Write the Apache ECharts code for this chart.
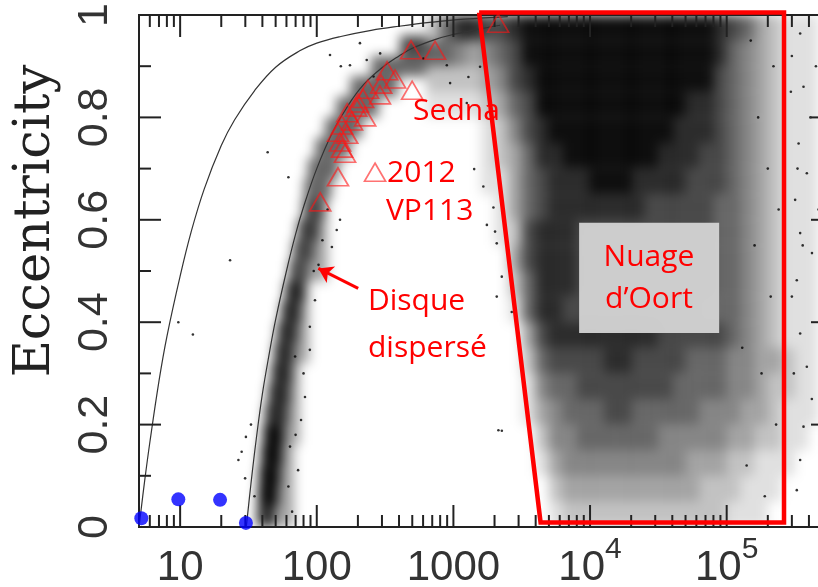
<!DOCTYPE html>
<html><head><meta charset="utf-8">
<script src="https://cdn.jsdelivr.net/npm/echarts/dist/echarts.min.js"></script>
<style>
html,body{margin:0;padding:0;background:#fff;}
#wrap{position:relative;width:818px;height:587px;overflow:hidden;background:#fff;}
#density{position:absolute;left:0;top:0;width:818px;height:587px;filter:blur(6px);clip-path:inset(14px 0 60px 0);}
#chart{position:absolute;left:0;top:0;width:818px;height:587px;}
</style></head><body>
<div id="wrap"><div id="density"></div><div id="chart"></div></div>
<script>
// ---------------- data ----------------
const xMajorTicks = [10, 100, 1000, 10000, 100000];
const xTickLabels = [['10',''], ['100',''], ['1000',''], ['10','4'], ['10','5']];
const xMinorTicks = [6,7,8,9,20,30,40,50,60,70,80,90,200,300,400,500,600,700,800,900,
  2000,3000,4000,5000,6000,7000,8000,9000,20000,30000,40000,50000,60000,70000,80000,90000,
  200000,300000,400000,500000];
const yMajorTicks = [0, 0.2, 0.4, 0.6, 0.8, 1];
const yTickLabels = ['0', '0.2', '0.4', '0.6', '0.8', '1'];
const yMinorTicks = [0.1, 0.3, 0.5, 0.7, 0.9];

// giant planets [a (AU), e]
const planets = [[5.2,0.017],[9.7,0.054],[19.6,0.053],[30.3,0.008]];

// distant detached objects (triangles) [a, e]
const detached = [[2123,0.984],[490,0.932],[734,0.931],[327,0.891],[374,0.875],[296,0.865],[499,0.853],
  [237,0.855],[290,0.844],[218,0.837],[200,0.828],[194,0.82],[226,0.801],[167,0.809],[181,0.793],
  [153,0.785],[143,0.771],[167,0.767],[148,0.752],[153,0.74],[161,0.73],[143,0.684],[106,0.635],[267,0.693]];

// perihelion curves [a, e]
const curveInner = [[5,0],[5.5,0.09],[6,0.165],[7,0.285],[8,0.372],[10,0.49],[12,0.575],[15,0.66],[20,0.745],
  [25,0.795],[35,0.852],[50,0.898],[75,0.93],[100,0.945],[150,0.958],[250,0.97],[400,0.978],[700,0.986],[1200,0.992],[2500,0.997]];
const curveOuter = [[30.5,0],[33,0.085],[36,0.17],[40,0.26],[45,0.34],[50,0.405],[60,0.5],[70,0.572],[80,0.625],
  [100,0.7],[130,0.77],[170,0.824],[220,0.864],[300,0.897],[400,0.92],[500,0.935],[750,0.953],[1000,0.962],[1500,0.972],[2200,0.98]];

// Oort cloud region outline [a, e]
const oortRegion = [[1542,1.005],[262800,1.005],[262800,0.009],[4345,0.009],[1542,1.005]];

// simulated-particle density: rows e = 1.00..0.00 (step 0.05),
// columns log10(a) = 2.8..5.7 (step 0.1), level 0 (empty) .. 9 (saturated)
const densityLogAStart = 2.8, densityLogAStep = 0.1, densityEStep = 0.05;
const oortDensityRows = [
  "257766789999999999998765321111",
  "554345689999999999998754321111",
  "222234678999999999988654321111",
  "111123568999999998877654321111",
  "000012467899999988777654321111",
  "000012357788999887776654321111",
  "000011356777888777766654321111",
  "000001356777777766666554321111",
  "000001267776666666666554321111",
  "000000367776666666666554321111",
  "000000257776666666666554321111",
  "000000157766666666665554321111",
  "000000036777777776666654321111",
  "000000025666677666655544332111",
  "000000014556666666555544322111",
  "000000013455566555554443321110",
  "000000002445555554444433221100",
  "000000001344444444433322111000",
  "000000000233333333332221110000",
  "000000000122222222222211100000"
];

// scattered-disk band: [eLow, eHigh, aLeft, aRight, level]
const scatteredBand = [
  [0.00,0.04,36.6,50.3,7],[0.04,0.08,37.2,52.1,8],[0.08,0.12,37.8,53.8,8],[0.12,0.16,39.1,55.7,8],
  [0.16,0.20,40.4,57.7,8],[0.20,0.24,41.8,60.6,7],[0.24,0.28,44.0,62.7,7],[0.28,0.32,46.3,64.8,7],
  [0.32,0.36,48.7,68.2,7],[0.36,0.40,51.2,71.8,7],[0.40,0.44,54.8,75.5,7],[0.44,0.48,58.6,80.7,7],
  [0.48,0.52,62.7,86.3,6],[0.52,0.56,67.0,93.9,6],[0.56,0.60,71.8,102.1,6],[0.60,0.64,78.0,112,5],
  [0.64,0.68,80.6,128,5],[0.68,0.72,86,145,5],[0.72,0.76,97.6,176,5],[0.76,0.80,115,214,5],
  [0.80,0.84,139,283,5],[0.84,0.88,176,392,5],[0.88,0.92,250,631,5],[0.92,0.96,407,631,6],
  [0.00,0.16,52,68,3],[0.16,0.32,58,75,3],[0.32,0.48,68,88,3],[0.48,0.64,86,120,3]
];

// isolated particles [a, e]
const sparseDots = [
  [9.7,0.40],[12.4,0.376],[23.2,0.521],[43.7,0.732],[62,0.683],
  [26.7,0.131],[30.3,0.176],[28.2,0.147],[29.9,0.095],[33,0.2],[35,0.06],
  [148,0.6],[140,0.58],[129,0.547],[103,0.512],[82,0.254],[63.7,0.157],[62,0.079],[89,0.391],[69.4,0.333],
  [89,0.346],[76.7,0.209],[73,0.111],[97,0.443],[115,0.492],[66,0.03],[70,0.18],[80,0.3],[95,0.5],[110,0.56],[120,0.62],
  [125,0.922],[175,0.902],[207,0.945],[232,0.912],[291,0.925],[150,0.9],[260,0.88],
  [1288,0.879],[946,0.867],[1567,0.899],[895,0.902],[603,0.915],[1419,0.699],[1758,0.59],[2018,0.577],
  [1963,0.624],[2076,0.554],[2262,0.188],[2135,0.189],[1253,0.828],[1656,0.665],[2260,0.489],[2076,0.45],[2672,0.42],
  [150000,0.95],[170000,0.8],[200000,0.7],[160000,0.55],[210000,0.45],[180000,0.3],[230000,0.2],[140000,0.12],
  [190000,0.06],[220000,0.9],[240000,0.62],[130000,0.35],
  [345000,0.964],[365000,0.86],[336000,0.749],[386000,0.691],[317000,0.639],[345000,0.574],[421000,0.535],
  [326000,0.482],[345000,0.378],[386000,0.313],[365000,0.196],[345000,0.131],[326000,0.072],[300000,0.92],
  [410000,0.8],[330000,0.7],[300000,0.45],[420000,0.25],[310000,0.3],[360000,0.55],[295000,0.85],[450000,0.9],[470000,0.62]
];

// ---------------- layout / style ----------------
const X_MIN = 5, X_MAX = 6e5;
const gridCfg = {left:139, top:15, right:-15, bottom:60, containLabel:false, outerBoundsMode:'none'};
const SANS = '"Liberation Sans", Arial, sans-serif';
const ANN = '"Open Sans", "Noto Sans", sans-serif';
const RED = '#ff0000';

function baseAxes(showLabels) {
  return {
    xAxis: {type:'log', logBase:10, min:X_MIN, max:X_MAX,
      axisLine:{show:false}, axisTick:{show:false}, splitLine:{show:false}, minorTick:{show:false},
      axisLabel: {show: showLabels, margin: 8,
        formatter: function (v) {
          const p = Math.log10(v);
          for (let i = 0; i < xMajorTicks.length; i++) {
            if (Math.abs(Math.log10(xMajorTicks[i]) - p) < 1e-6) {
              const t = xTickLabels[i];
              return t[1] ? '{b|' + t[0] + '}{s|' + t[1] + '}' : '{b|' + t[0] + '}';
            }
          }
          return '';
        },
        rich: {
          b: {fontFamily: SANS, fontSize: 42, color: '#333', lineHeight: 66, verticalAlign: 'middle'},
          s: {fontFamily: SANS, fontSize: 30, color: '#333', lineHeight: 26, verticalAlign: 'top'}
        }
      }},
    yAxis: {type:'value', min:0, max:1, interval:0.2,
      axisLine:{show:false}, axisTick:{show:false}, splitLine:{show:false},
      axisLabel: {show: showLabels, rotate: 90, margin: 22, fontFamily: SANS, fontSize: 43, color: '#333',
        formatter: function (v) {
          for (let i = 0; i < yMajorTicks.length; i++) if (Math.abs(yMajorTicks[i] - v) < 1e-6) return yTickLabels[i];
          return '';
        }}}
  };
}

function cellRender(params, api) {
  const p0 = api.coord([api.value(0), api.value(3)]);
  const p1 = api.coord([api.value(1), api.value(2)]);
  const L = api.value(4);
  return {type:'rect', shape:{x:p0[0], y:p0[1], width:p1[0]-p0[0], height:p1[1]-p0[1]},
    style:{fill:'rgba(0,0,0,' + Math.min(0.96, L * 0.12).toFixed(2) + ')'}};
}

// ---------------- density layer ----------------
const cells = [];
oortDensityRows.forEach(function (row, r) {
  const eHi = 1 - r * densityEStep, eLo = eHi - densityEStep;
  for (let k = 0; k < row.length; k++) {
    const L = +row[k];
    if (!L) continue;
    const a0 = Math.pow(10, densityLogAStart + k * densityLogAStep);
    const a1 = Math.pow(10, densityLogAStart + (k + 1) * densityLogAStep);
    cells.push([a0, a1, eLo, eHi, L]);
  }
});
const bandCells = scatteredBand.map(function (b) { return [b[2], b[3], b[0], b[1], b[4]]; });

const dens = echarts.init(document.getElementById('density'), null, {renderer:'canvas'});
const dAxes = baseAxes(false);
dens.setOption({
  animation:false, backgroundColor:'transparent',
  grid: Object.assign({show:false}, gridCfg),
  xAxis: dAxes.xAxis, yAxis: dAxes.yAxis,
  series: [
    {type:'custom', silent:true, clip:false, data: cells, encode:{x:[0,1], y:[2,3]}, renderItem: cellRender},
    {type:'custom', silent:true, clip:false, data: bandCells, encode:{x:[0,1], y:[2,3]}, renderItem: cellRender}
  ]
});

// ---------------- main layer ----------------
const chart = echarts.init(document.getElementById('chart'), null, {renderer:'canvas'});
const axes = baseAxes(true);

const xTickItems = xMajorTicks.map(v => [v, 0.5, 1]).concat(xMinorTicks.map(v => [v, 0.5, 0]));
const yTickItems = yMajorTicks.map(v => [X_MIN, v, 1]).concat(yMinorTicks.map(v => [X_MIN, v, 0]));
const TICK = '#222';

chart.setOption({
  animation:false, backgroundColor:'transparent',
  textStyle:{fontFamily: SANS},
  grid: Object.assign({show:true, borderColor:'#222', borderWidth:2, backgroundColor:'transparent'}, gridCfg),
  xAxis: axes.xAxis, yAxis: axes.yAxis,
  series: [
    {name:'particles', type:'scatter', silent:true, symbolSize:2.6, itemStyle:{color:'#000'}, data: sparseDots, z:2},
    {name:'q=5', type:'line', silent:true, showSymbol:false, symbol:'none', smooth:0.4, data: curveInner,
      lineStyle:{color:'#333', width:1.2}, z:3},
    {name:'q=30', type:'line', silent:true, showSymbol:false, symbol:'none', smooth:0.4, data: curveOuter,
      lineStyle:{color:'#333', width:1.2}, z:3},
    {name:'xticks', type:'custom', silent:true, clip:false, z:4, data: xTickItems, encode:{x:0, y:1},
      renderItem: function (params, api) {
        const cs = params.coordSys;
        const x = api.coord([api.value(0), 0])[0];
        const len = api.value(2) ? 22 : 12;
        const bot = cs.y + cs.height, top = cs.y;
        return {type:'group', children:[
          {type:'line', shape:{x1:x, y1:bot, x2:x, y2:bot - len}, style:{stroke:TICK, lineWidth:2}},
          {type:'line', shape:{x1:x, y1:top, x2:x, y2:top + len}, style:{stroke:TICK, lineWidth:2}}
        ]};
      }},
    {name:'yticks', type:'custom', silent:true, clip:false, z:4, data: yTickItems, encode:{x:0, y:1},
      renderItem: function (params, api) {
        const cs = params.coordSys;
        const y = api.coord([X_MIN, api.value(1)])[1];
        const len = api.value(2) ? 22 : 12;
        const l = cs.x, r = cs.x + cs.width;
        return {type:'group', children:[
          {type:'line', shape:{x1:l, y1:y, x2:l + len, y2:y}, style:{stroke:TICK, lineWidth:2}},
          {type:'line', shape:{x1:r, y1:y, x2:r - len, y2:y}, style:{stroke:TICK, lineWidth:2}}
        ]};
      }},
    {name:'detached', type:'scatter', silent:true, clip:false, symbol:'triangle', symbolSize:[21,18],
      itemStyle:{color:'rgba(255,255,255,0)', borderColor:'rgba(255,20,20,0.75)', borderWidth:1.7},
      data: detached, z:6,
      markLine: {silent:true, symbol:['none','arrow'], symbolSize:14, animation:false,
        lineStyle:{color:RED, width:3, type:'solid'}, label:{show:false},
        data: [[{coord:[201,0.466]}, {coord:[102.8,0.505]}]]}},
    {name:'oort', type:'line', silent:true, clip:false, symbol:'none', data: oortRegion,
      lineStyle:{color:RED, width:4.5, join:'miter'}, z:8},
    {name:'planets', type:'scatter', silent:true, clip:false, symbolSize:14, itemStyle:{color:'#0000ff'},
      data: planets, z:9}
  ]
});

// annotations anchored in data coordinates
const P = (a, e) => chart.convertToPixel({gridIndex:0}, [a, e]);
const b0 = P(8318, 0.594), b1 = P(88100, 0.379);
function txt(str, a, e, align) {
  const p = P(a, e);
  return {type:'text', x:p[0], y:p[1], z:20,
    style:{text:str, fill:RED, fontFamily:ANN, fontSize:30, align:align, verticalAlign:'middle'}};
}
chart.setOption({
  graphic: [
    {type:'rect', z:15, shape:{x:b0[0], y:b0[1], width:b1[0]-b0[0], height:b1[1]-b0[1]},
      style:{fill:'rgba(210,210,210,0.96)'}},
    txt('Nuage', 27000, 0.527, 'center'),
    txt('d\u2019Oort', 27000, 0.444, 'center'),
    txt('Sedna', 507, 0.8125, 'left'),
    txt('2012', 327, 0.691, 'left'),
    txt('VP113', 321, 0.617, 'left'),
    txt('Disque', 237, 0.441, 'left'),
    txt('dispers\u00e9', 237, 0.348, 'left'),
    {type:'text', x:36, y:221, rotation:Math.PI/2, z:20,
      style:{text:'Eccentricity', fill:'#222', fontFamily:'"DejaVu Serif", serif', fontSize:51,
        align:'center', verticalAlign:'middle'}}
  ]
});
</script></body></html>
